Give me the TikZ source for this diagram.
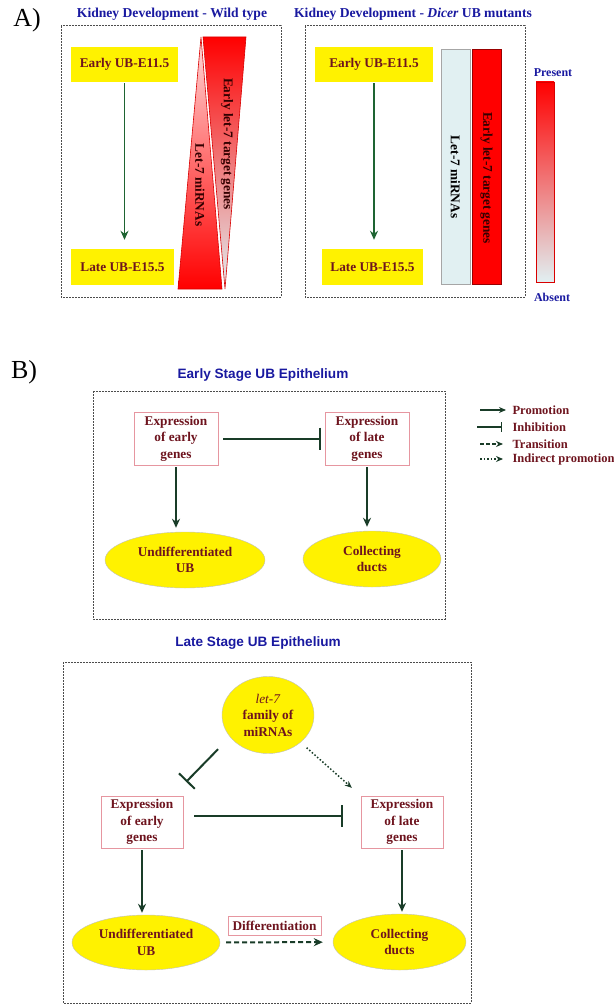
\documentclass[tikz,border=0pt]{standalone}
\usepackage{fontspec}
\setmainfont{Liberation Serif}
\setsansfont{Liberation Sans}
\usepackage{tikz}
\usetikzlibrary{arrows.meta,shapes.geometric}
\usepackage{xcolor}
\definecolor{maroon}{RGB}{110,20,30}
\definecolor{titleblue}{RGB}{25,25,160}
\definecolor{arrowgreen}{RGB}{25,60,40}
\definecolor{stagegreen}{RGB}{30,100,50}
\definecolor{pinkline}{RGB}{230,150,160}
\definecolor{lightcyan}{RGB}{225,240,242}

\begin{document}
\begin{tikzpicture}[x=1pt,y=-1pt,
  txt/.style={font=\fontsize{13.3}{16.5}\selectfont\bfseries, text=maroon, align=center},
  stage/.style={txt, fill=yellow, minimum height=35},
  genebox/.style={txt, draw=pinkline, fill=white, minimum width=84, minimum height=53, inner sep=1pt},
  fate/.style={txt, ellipse, draw=gray!50, fill=yellow, inner sep=0pt},
  keytxt/.style={txt, font=\fontsize{12.5}{15}\selectfont\bfseries, anchor=west},
  titleA/.style={font=\fontsize{13.6}{16}\selectfont\bfseries, text=titleblue},
  titleB/.style={font=\sffamily\fontsize{13.6}{16}\selectfont\bfseries, text=titleblue},
  panel/.style={font=\fontsize{26}{26}\selectfont},
  frame/.style={draw=gray!60!black, line width=1pt, dash pattern=on 2pt off 1pt},
  develop/.style={-{Stealth[length=9pt,width=8pt]}, line width=1.8pt, draw=stagegreen},
  promote/.style={-{Stealth[length=9pt,width=8pt]}, line width=2pt, draw=arrowgreen},
  inhibit/.style={-{Bar[width=22pt]}, line width=2pt, draw=arrowgreen},
  transit/.style={promote, dash pattern=on 5pt off 3pt},
  indirect/.style={-{Stealth[length=7pt,width=6pt]}, line width=1.5pt, draw=arrowgreen, dotted}]
\useasboundingbox (0,0) rectangle (613,1006);

% A) wild type
\node[panel] (labA) at (27,20) {A)};
\node[titleA] (tA1) at (172,14) {Kidney Development - Wild type};
\draw[frame] (61,26) rectangle (281,297);
\node[stage, minimum width=107] (e1) at (124.5,64.5) {Early UB-E11.5};
\node[stage, minimum width=103, minimum height=36] (l1) at (122.5,267) {Late UB-E15.5};
\draw[develop, shorten <=1, shorten >=9] (e1.south) -- (e1.south |- l1.north);
\shadedraw[draw=red!85!black, line width=0.6pt, top color=red!15, middle color=red!45, bottom color=red]
  (201,37) -- (178,289) -- (222,289) -- cycle;
\shadedraw[draw=red!85!black, line width=0.6pt, top color=red, middle color=lightcyan!88!red, bottom color=lightcyan]
  (203,37) -- (246,37) -- (225,289) -- cycle;
\node[txt, text=black!80!red, rotate=-90] (mirA) at (200,185) {Let-7 miRNAs};
\node[txt, text=black!80!red, rotate=-90] (tgA) at (227,144) {Early let-7 target genes};

% A) Dicer mutants
\node[titleA] (tA2) at (413,14) {Kidney Development - \textit{Dicer} UB mutants};
\draw[frame] (305,26) rectangle (525,297);
\node[stage, minimum width=118] (e2) at (374,64.5) {Early UB-E11.5};
\node[stage, minimum width=101, minimum height=36] (l2) at (372.5,267) {Late UB-E15.5};
\draw[develop, shorten <=1, shorten >=9] (e2.south) -- (e2.south |- l2.north);
\draw[draw=gray!70, fill=lightcyan, line width=0.6pt] (441,49) rectangle (470,284);
\draw[draw=red!60!black, fill=red, line width=0.6pt] (472,49) rectangle (501,284);
\node[txt, text=black, rotate=-90] (mirB) at (455.5,177) {Let-7 miRNAs};
\node[txt, text=black!80!red, rotate=-90] (tgB) at (486.5,178) {Early let-7 target genes};

% scale bar
\node[titleA, font=\fontsize{12}{14}\selectfont\bfseries] (pres) at (553,73) {Present};
\shadedraw[draw=red!85!black, line width=0.6pt, top color=red, middle color=lightcyan!88!red, bottom color=lightcyan]
  (536,82) rectangle (554,282);
\node[titleA, font=\fontsize{12}{14}\selectfont\bfseries] (abs) at (552,297) {Absent};

% B) early stage
\node[panel] (labB) at (24,372) {B)};
\node[titleB] (tB1) at (263,375) {Early Stage UB Epithelium};
\draw[frame] (93,391) rectangle (445,619);
\node[genebox] (eg1) at (176,438.5) {Expression\\of early\\genes};
\node[genebox] (lg1) at (367,438.5) {Expression\\of late\\genes};
\node[fate, minimum width=160, minimum height=56] (ud1) at (185,560) {Undifferentiated\\UB};
\node[fate, minimum width=138, minimum height=56] (cd1) at (372,559) {Collecting\\ducts};
\draw[inhibit, shorten <=5, shorten >=4] (eg1) -- (lg1);
\draw[promote, shorten <=2, shorten >=4] (eg1.south) -- (eg1.south |- ud1.north);
\draw[promote, shorten <=2, shorten >=4] (lg1.south) -- (lg1.south |- cd1.north);

% key
\node[keytxt] (kpro) at (509,410) {Promotion};
\node[keytxt] (kinh) at (509,427) {Inhibition};
\node[keytxt] (ktra) at (509,444) {Transition};
\node[keytxt] (kind) at (509,459) {Indirect promotion};
\coordinate (kpro0) at (480,410);
\coordinate (kinh0) at (477,427);
\coordinate (ktra0) at (480,444);
\coordinate (kind0) at (480,459);
\draw[promote, line width=1.5pt, -{Stealth[length=7pt,width=6pt]}, shorten >=3] (kpro0) -- (kpro.west);
\draw[inhibit, line width=1.5pt, -{Bar[width=10pt]}, shorten >=7] (kinh0) -- (kinh.west);
\draw[transit, line width=1.5pt, -{Stealth[length=7pt,width=6pt]}, dash pattern=on 4pt off 2pt, shorten >=6] (ktra0) -- (ktra.west);
\draw[indirect, shorten >=6] (kind0) -- (kind.west);

% B) late stage
\node[titleB] (tB2) at (258,643) {Late Stage UB Epithelium};
\draw[frame] (63,662) rectangle (471,1003);
\node[fate, minimum width=92, minimum height=77] (let7) at (268,715) {\textit{\mdseries let-7}\\family of\\miRNAs};
\node[genebox, minimum width=82, minimum height=52] (eg2) at (142,822) {Expression\\of early\\genes};
\node[genebox, minimum width=82, minimum height=52] (lg2) at (402,822) {Expression\\of late\\genes};
\node[fate, minimum width=148, minimum height=55] (ud2) at (146,942.5) {Undifferentiated\\UB};
\node[fate, minimum width=133, minimum height=56] (cd2) at (399.5,942) {Collecting\\ducts};
\node[genebox, minimum width=93, minimum height=19, inner sep=2pt] (diff) at (274.5,925.5) {Differentiation};
\draw[inhibit, shorten <=17] (let7.210) -- ([shift={(3,-14)}]eg2.north east);
\draw[indirect, shorten <=8] (let7.320) -- ([shift={(-9,-8)}]lg2.north west);
\draw[inhibit, shorten <=11, shorten >=18] ([yshift=6pt]eg2.east) -- ([yshift=6pt]lg2.west);
\draw[promote, shorten <=2, shorten >=2] (eg2.south) -- (eg2.south |- ud2.north);
\draw[promote, shorten <=2, shorten >=2] (lg2.south) -- (lg2.south |- cd2.north);
\draw[transit, shorten <=6, shorten >=10] (ud2) -- (cd2);
\end{tikzpicture}
\end{document}
